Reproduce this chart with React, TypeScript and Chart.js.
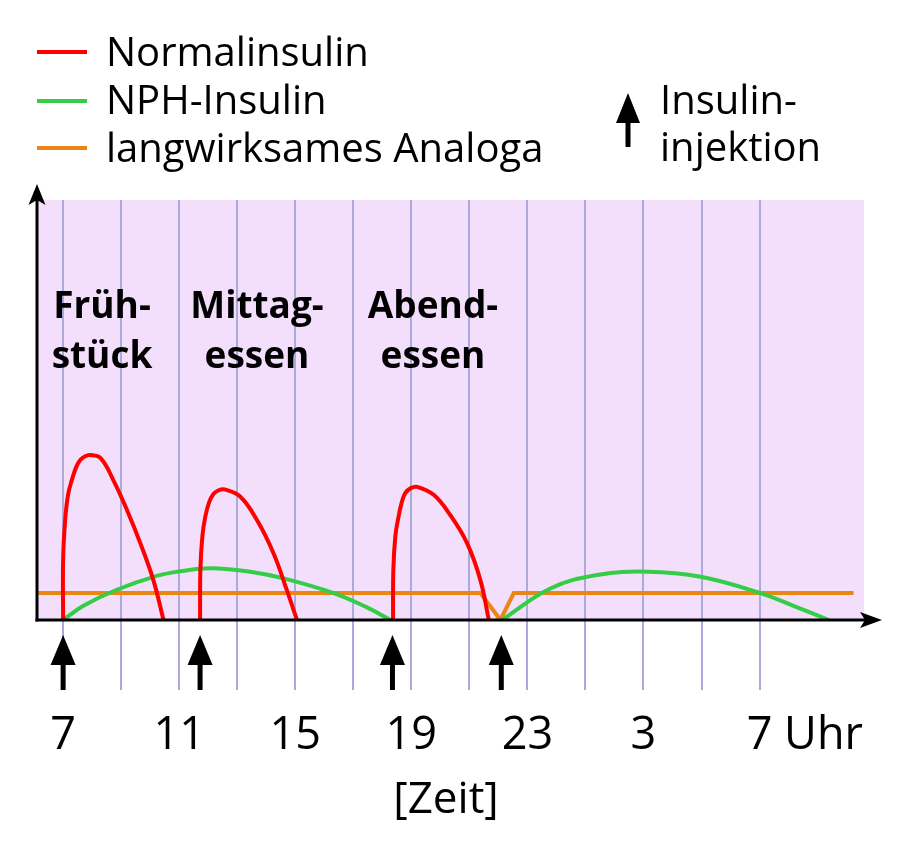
import React, { useEffect, useRef } from "react";
import { Chart, registerables } from "chart.js";

Chart.register(...registerables);

// ---- data ----
const X_MIN = 6.1;
const X_MAX = 34.6;
const Y_MIN = 0;
const Y_MAX = 10;

const gridHours = [7, 9, 11, 13, 15, 17, 19, 21, 23, 25, 27, 29, 31];
const tickHours = [7, 11, 15, 19, 23, 27, 31];
const tickLabels = ["7", "11", "15", "19", "23", "3", "7"];
const tickUnit = "Uhr";
const axisTitle = "[Zeit]";
const injectionHours = [7, 11.72, 18.35, 22.1];

const normalX = [
  7.0, 7.0, 7.07, 7.17, 7.3, 7.45, 7.59, 7.76, 7.93, 8.3, 8.73, 9.2, 9.66, 10.11, 10.46,
  11.1,
  11.72, 11.73, 11.8, 11.9, 12.03, 12.18, 12.36, 12.56, 13.1, 13.68, 14.25, 14.71, 15.06,
  16.7,
  18.37, 18.38, 18.45, 18.56, 18.67, 18.79, 18.98, 19.2, 19.77, 20.34, 20.92, 21.38, 21.67,
];
const normalY = [
  0, 1.43, 2.38, 2.98, 3.33, 3.64, 3.81, 3.9, 3.93, 3.85, 3.33, 2.62, 1.83, 0.95, 0,
  null,
  0, 1.19, 2.0, 2.46, 2.8, 3.0, 3.09, 3.11, 2.94, 2.38, 1.59, 0.71, 0,
  null,
  0, 1.19, 2.0, 2.46, 2.8, 3.02, 3.14, 3.17, 2.98, 2.5, 1.83, 0.95, 0,
];

const nphX = [
  7.0, 7.7, 8.85, 10.23, 11.03, 12.07, 13.45, 14.6, 16.32, 17.47, 18.28,
  20.2,
  22.13, 23.79, 25.4, 27.13, 28.97, 31.03, 32.3, 33.39,
];
const nphY = [
  0, 0.34, 0.72, 1.05, 1.16, 1.23, 1.15, 0.99, 0.64, 0.3, 0,
  null,
  0, 0.75, 1.07, 1.15, 1.03, 0.64, 0.3, 0,
];

const analogX = [6.14, 21.38, 22.07, 22.53, 34.24];
const analogY = [0.64, 0.64, 0, 0.64, 0.64];

const legendLabels = ["Normalinsulin", "NPH-Insulin", "langwirksames Analoga"];
const injectionLegend = ["Insulin-", "injektion"];
const mealLabels = [
  ["Früh-", "stück"],
  ["Mittag-", "essen"],
  ["Abend-", "essen"],
];

// ---- styles ----
const RED = "#ff0000";
const GREEN = "#34cd45";
const ORANGE = "#ea8714";
const BG = "#f3defc";
const GRID = "#aaaadf";
const FONT = '"Open Sans", "Noto Sans", sans-serif';

const toPoints = (xs: number[], ys: (number | null)[]) =>
  xs.map((x, i) => ({ x, y: ys[i] }));

function drawUpArrow(
  ctx: CanvasRenderingContext2D,
  x: number,
  tipY: number,
  headBaseY: number,
  headW: number,
  endY: number,
  shaftW: number
) {
  ctx.fillStyle = "#000";
  ctx.beginPath();
  ctx.moveTo(x, tipY);
  ctx.lineTo(x + headW / 2, headBaseY);
  ctx.lineTo(x - headW / 2, headBaseY);
  ctx.closePath();
  ctx.fill();
  ctx.fillRect(x - shaftW / 2, headBaseY - 1, shaftW, endY - headBaseY + 1);
}

const decorPlugin = {
  id: "decor",
  beforeDraw(chart: any) {
    const { ctx, chartArea } = chart;
    const { left, top, right, bottom } = chartArea;
    ctx.save();
    ctx.fillStyle = BG;
    ctx.fillRect(left, top, right - left, bottom - top);
    ctx.restore();
  },
  afterDatasetsDraw(chart: any) {
    const { ctx, chartArea } = chart;
    const { left, bottom } = chartArea;
    ctx.save();
    ctx.strokeStyle = "#000";
    ctx.fillStyle = "#000";
    ctx.lineWidth = 3;
    // x axis
    ctx.beginPath();
    ctx.moveTo(left - 1.5, bottom);
    ctx.lineTo(872, bottom);
    ctx.stroke();
    ctx.beginPath();
    ctx.moveTo(882, bottom);
    ctx.lineTo(860, bottom - 8);
    ctx.lineTo(865, bottom);
    ctx.lineTo(860, bottom + 8);
    ctx.closePath();
    ctx.fill();
    // y axis
    ctx.beginPath();
    ctx.moveTo(left, bottom + 1.5);
    ctx.lineTo(left, 195);
    ctx.stroke();
    ctx.beginPath();
    ctx.moveTo(left, 184);
    ctx.lineTo(left + 8.5, 205);
    ctx.lineTo(left, 200);
    ctx.lineTo(left - 8.5, 205);
    ctx.closePath();
    ctx.fill();
    ctx.restore();
  },
  afterDraw(chart: any) {
    const { ctx } = chart;
    const xs = chart.scales.x;
    ctx.save();
    ctx.fillStyle = "#000";
    ctx.textBaseline = "alphabetic";

    // injection arrows
    injectionHours.forEach((h) => {
      const px = xs.getPixelForValue(h);
      drawUpArrow(ctx, px, 635, 665, 25, 690, 5);
    });

    // tick labels
    ctx.font = `45px ${FONT}`;
    tickHours.forEach((h, i) => {
      const px = xs.getPixelForValue(h);
      ctx.textAlign = "center";
      ctx.fillText(tickLabels[i], px, 749);
      if (i === tickHours.length - 1) {
        const w = ctx.measureText(tickLabels[i]).width;
        ctx.textAlign = "left";
        ctx.fillText(" " + tickUnit, px + w / 2, 749);
      }
    });

    // axis title
    ctx.font = `44px ${FONT}`;
    ctx.textAlign = "center";
    ctx.fillText(axisTitle, 446, 813);

    // meal labels
    ctx.font = `bold 37px ${FONT}`;
    const mealCenters = [102, 257, 433];
    mealLabels.forEach((lines, i) => {
      ctx.fillText(lines[0], mealCenters[i], 318);
      ctx.fillText(lines[1], mealCenters[i], 368);
    });

    // legend
    const colors = [RED, GREEN, ORANGE];
    const rows = [52, 101, 148];
    const baselines = [66, 114, 162];
    ctx.font = `40px ${FONT}`;
    ctx.textAlign = "left";
    legendLabels.forEach((lab, i) => {
      ctx.strokeStyle = colors[i];
      ctx.lineWidth = 4;
      ctx.beginPath();
      ctx.moveTo(37, rows[i]);
      ctx.lineTo(87, rows[i]);
      ctx.stroke();
      ctx.fillStyle = "#000";
      ctx.fillText(lab, 106, baselines[i]);
    });
    drawUpArrow(ctx, 628, 93, 123, 24, 147, 5);
    ctx.fillText(injectionLegend[0], 660, 114);
    ctx.fillText(injectionLegend[1], 660, 161);

    ctx.restore();
  },
};

export default function App() {
  const canvasRef = useRef<HTMLCanvasElement | null>(null);

  useEffect(() => {
    const canvas = canvasRef.current;
    if (!canvas) return;
    const chart = new Chart(canvas, {
      type: "line",
      data: {
        datasets: [
          {
            label: legendLabels[0],
            data: toPoints(normalX, normalY) as any,
            borderColor: RED,
            borderWidth: 4,
            pointRadius: 0,
            tension: 0.4,
            spanGaps: false,
            order: 1,
          },
          {
            label: legendLabels[1],
            data: toPoints(nphX, nphY) as any,
            borderColor: GREEN,
            borderWidth: 4,
            pointRadius: 0,
            tension: 0.4,
            spanGaps: false,
            order: 2,
          },
          {
            label: legendLabels[2],
            data: toPoints(analogX, analogY) as any,
            borderColor: ORANGE,
            borderWidth: 4,
            pointRadius: 0,
            tension: 0,
            order: 3,
          },
        ],
      },
      options: {
        animation: false,
        responsive: false,
        devicePixelRatio: 1,
        layout: { padding: { left: 37, right: 36, top: 200, bottom: 173 } },
        plugins: {
          legend: { display: false },
          tooltip: { enabled: false },
        },
        scales: {
          x: {
            type: "linear",
            min: X_MIN,
            max: X_MAX,
            afterBuildTicks: (scale: any) => {
              scale.ticks = gridHours.map((v) => ({ value: v }));
            },
            grid: {
              color: GRID,
              lineWidth: 2,
              drawTicks: true,
              tickLength: 70,
            },
            border: { display: false },
            ticks: { display: false },
          },
          y: {
            type: "linear",
            min: Y_MIN,
            max: Y_MAX,
            display: false,
          },
        },
      },
      plugins: [decorPlugin],
    });
    return () => chart.destroy();
  }, []);

  return (
    <div style={{ position: "fixed", left: 0, top: 0, width: 900, height: 863, background: "#fff" }}>
      <canvas ref={canvasRef} width={900} height={863} />
    </div>
  );
}
